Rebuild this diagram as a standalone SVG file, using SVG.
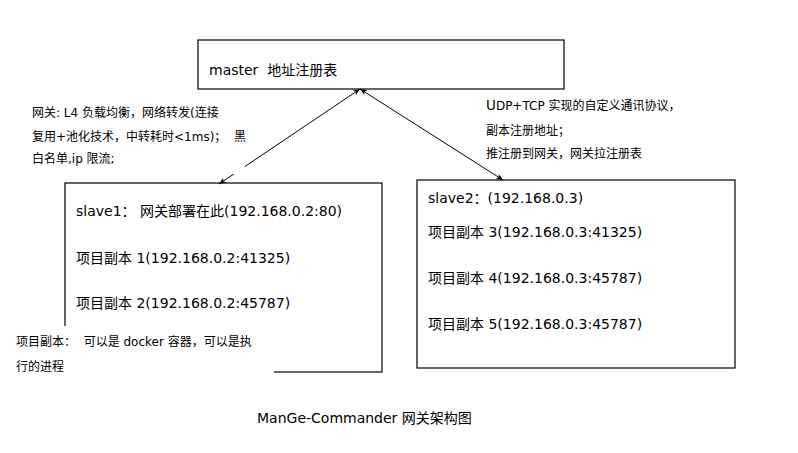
<svg xmlns="http://www.w3.org/2000/svg" width="798" height="453" viewBox="0 0 798 453">
<style>
.box{fill:#fff;stroke:#000;stroke-width:1.2}
.t{font-family:"DejaVu Sans","Noto Sans CJK SC",sans-serif;font-size:14px;fill:#000;white-space:pre}
.s{font-family:"DejaVu Sans","Noto Sans CJK SC",sans-serif;font-size:12px;fill:#000;white-space:pre}
.c{fill:none;stroke:#000;stroke-width:1}
.bg{fill:#fff;stroke:none}
</style>
<defs>
<marker id="ah" viewBox="0 0 10 10" refX="10" refY="5" markerWidth="7" markerHeight="7" orient="auto-start-reverse" markerUnits="userSpaceOnUse">
<path d="M0,1 L10,5 L0,9 L3,5 Z" fill="#000"/>
</marker>
</defs>
<rect width="798" height="453" fill="#fff"/>
<g id="master">
<rect class="box" x="198" y="40" width="366" height="49"/>
<text class="t" x="209" y="75" xml:space="preserve">master  地址注册表</text>
</g>
<g id="slave1">
<rect class="box" x="65" y="183" width="317" height="189"/>
<text class="t" x="76" y="216">slave1： 网关部署在此(192.168.0.2:80)</text>
<text class="t" x="76" y="263">项目副本 1(192.168.0.2:41325)</text>
<text class="t" x="76" y="308">项目副本 2(192.168.0.2:45787)</text>
</g>
<g id="slave2">
<rect class="box" x="417" y="180" width="318" height="188"/>
<text class="t" x="428" y="203">slave2：(192.168.0.3)</text>
<text class="t" x="428" y="237">项目副本 3(192.168.0.3:41325)</text>
<text class="t" x="428" y="283">项目副本 4(192.168.0.3:45787)</text>
<text class="t" x="428" y="329">项目副本 5(192.168.0.3:45787)</text>
</g>
<g id="connectors">
<line class="c" x1="360" y1="89" x2="219" y2="184" marker-start="url(#ah)" marker-end="url(#ah)"/>
<line class="c" x1="360" y1="89" x2="503" y2="180" marker-start="url(#ah)" marker-end="url(#ah)"/>
</g>
<g id="note-gateway">
<rect class="bg" x="26" y="98" width="219" height="76"/>
<text class="s" x="32" y="117">网关: L4 负载均衡，网络转发(连接</text>
<text class="s" x="32" y="141" xml:space="preserve">复用+池化技术，中转耗时&lt;1ms)；  黑</text>
<text class="s" x="32" y="163">白名单,ip 限流;</text>
</g>
<g id="note-protocol">
<text class="s" x="486" y="110"><tspan font-size="13.5">U</tspan>DP+TCP 实现的自定义通讯协议，</text>
<text class="s" x="486" y="135">副本注册地址；</text>
<text class="s" x="486" y="158">推注册到网关，网关拉注册表</text>
</g>
<g id="note-replica">
<rect class="bg" x="10" y="326" width="264" height="52"/>
<text class="s" x="16" y="346" xml:space="preserve">项目副本：  可以是 docker 容器，可以是执</text>
<text class="s" x="16" y="371">行的进程</text>
</g>
<g id="title">
<text class="t" x="257" y="423">ManGe-Commander 网关架构图</text>
</g>
</svg>
